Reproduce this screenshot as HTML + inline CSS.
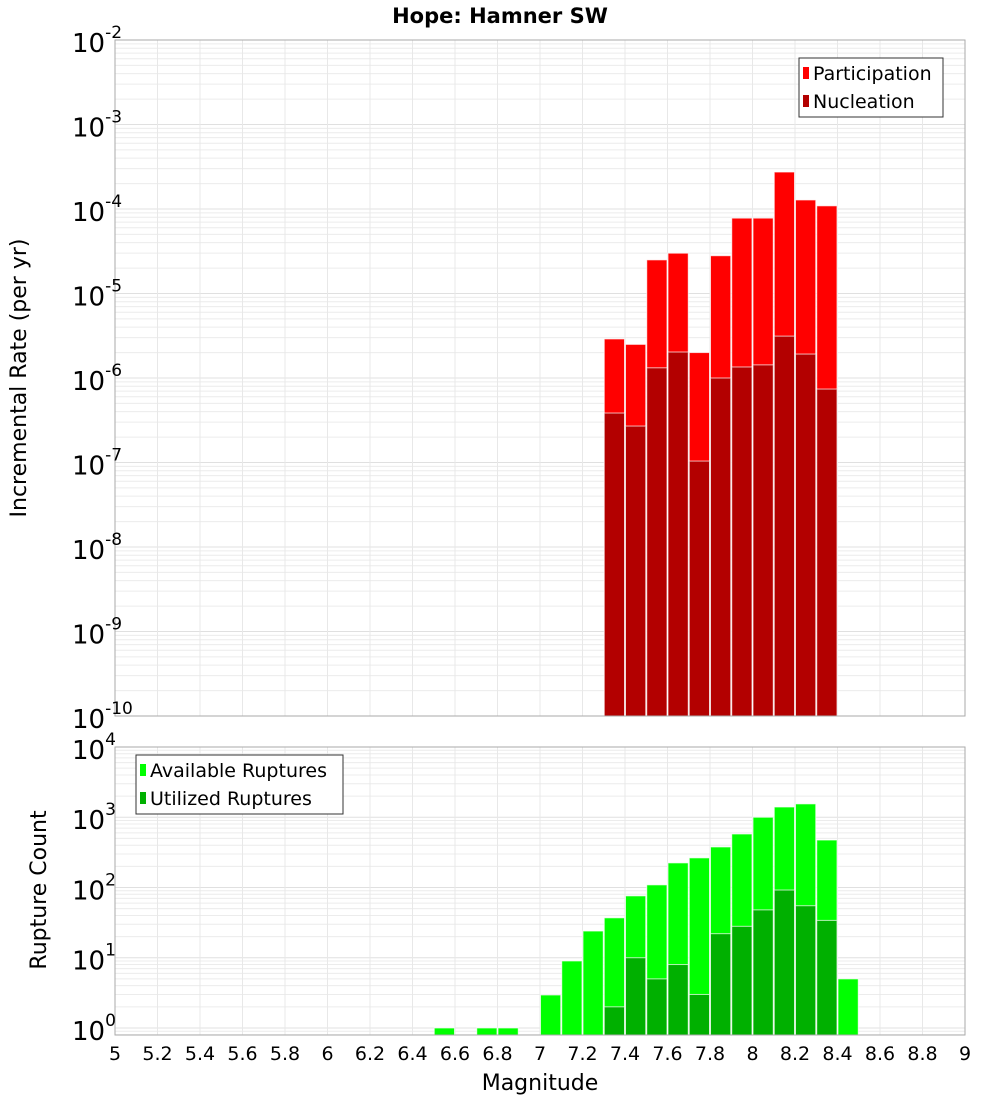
<!DOCTYPE html>
<html><head><meta charset="utf-8"><style>
body{margin:0;background:#fff;}
svg text{font-family:"DejaVu Sans","Liberation Sans",sans-serif;}
</style></head><body>
<svg id="c" width="1000" height="1100" xmlns="http://www.w3.org/2000/svg"></svg>
<script>
const binCenters=[7.35,7.45,7.55,7.65,7.75,7.85,7.95,8.05,8.15,8.25,8.35];
const participation=[2.9e-6,2.5e-6,2.5e-5,3.0e-5,2.0e-6,2.8e-5,7.8e-5,7.8e-5,2.74e-4,1.28e-4,1.09e-4];
const nucleation=[3.85e-7,2.7e-7,1.32e-6,2.03e-6,1.04e-7,1.0e-6,1.35e-6,1.43e-6,3.13e-6,1.92e-6,7.4e-7];
const availCenters=[6.55,6.75,6.85,7.05,7.15,7.25,7.35,7.45,7.55,7.65,7.75,7.85,7.95,8.05,8.15,8.25,8.35,8.45];
const available=[1,1,1,2.95,9,24,37,76,109,224,264,378,578,1000,1400,1550,474,5];
const utilCenters=[7.35,7.45,7.55,7.65,7.75,7.85,7.95,8.05,8.15,8.25,8.35];
const utilized=[2,10,5,8,3,22,28,48,92,55,34];
const xTicks=[5,5.2,5.4,5.6,5.8,6,6.2,6.4,6.6,6.8,7,7.2,7.4,7.6,7.8,8,8.2,8.4,8.6,8.8,9];
const topExps=[-10,-9,-8,-7,-6,-5,-4,-3,-2];
const botExps=[0,1,2,3,4];

const svg=document.getElementById('c');
const NS='http://www.w3.org/2000/svg';
function el(tag,attrs,parent){const e=document.createElementNS(NS,tag);for(const k in attrs)e.setAttribute(k,attrs[k]);(parent||svg).appendChild(e);return e;}
const X0=115,X1=965;
const xs=v=>X0+(v-5)/4*(X1-X0);
const T0=40,T1=716;
const ysTop=v=>T1-(Math.log10(v)+10)/8*(T1-T0);
const B0=747,B1=1035;
const ysBot=v=>B1-(Math.log10(v)+0.1)/4.1*(B1-B0);

function grid(top,bot,ys,lo,hi){
  const g=el('g',{});
  
  
  for(let e=lo;e<hi;e++)for(let m=1;m<10;m++){const v=m*Math.pow(10,e);const y=ys(v);if(y<top-0.5||y>bot+0.5)continue;
    el('line',{x1:X0,x2:X1,y1:y,y2:y,stroke:m==1?'#e0e0e0':'#ececec','stroke-width':1},g);}
  xTicks.forEach(t=>{const x=xs(t);el('line',{x1:x,x2:x,y1:top,y2:bot,stroke:'#e8e8e8','stroke-width':1},g);});
}
grid(T0,T1,ysTop,-10,-1);
grid(B0,B1,ysBot,-1,4);

function bars(centers,vals,ys,base,color,name){
  centers.forEach((c,i)=>{const x=xs(c-0.05),w=xs(c+0.05)-x;const y=ys(vals[i]);
    const r=el('rect',{x:x+0.5,y:y,width:w-1,height:base-y,fill:color,stroke:'#fff','stroke-opacity':0.7,'stroke-width':1});
    
    });
}
bars(binCenters,participation,ysTop,T1,'#ff0000','participation');
bars(binCenters,nucleation,ysTop,T1,'#b30000','nucleation');
bars(availCenters,available,ysBot,B1,'#00ff00','available');
bars(utilCenters,utilized,ysBot,B1,'#00b000','utilized');

el('rect',{x:X0,y:T0,width:X1-X0,height:T1-T0,fill:'none',stroke:'#aaa'});
el('rect',{x:X0,y:B0,width:X1-X0,height:B1-B0,fill:'none',stroke:'#aaa'});

function ylabels(exps,ys,pre){
  exps.forEach(e=>{const y=ys(Math.pow(10,e));
    const t=el('text',{x:72,y:y+12,'font-size':26,fill:'#000'});
    
    
    t.textContent='10';
    const s=el('tspan',{dy:-14,'font-size':17},t);s.textContent=String(e);});
}
ylabels(topExps,ysTop,'top-y');
ylabels(botExps,ysBot,'bottom-y');

xTicks.forEach(t=>{const tx=el('text',{x:xs(t),y:1060,'font-size':19,'text-anchor':'middle',fill:'#000'});
  
  
  tx.textContent=String(t);});

function txt(s,a,name){const t=el('text',a);t.textContent=s;return t;}
txt('Hope: Hamner SW',{x:500,y:23,'font-size':21,'font-weight':'bold','text-anchor':'middle'},'chart-title');
txt('Magnitude',{x:540,y:1090,'font-size':22,'text-anchor':'middle'},'x-axis-title');
txt('Incremental Rate (per yr)',{x:0,y:0,'font-size':22,'text-anchor':'middle',transform:'translate(26,378) rotate(-90)'},'top-y-axis-title');
txt('Rupture Count',{x:0,y:0,'font-size':22,'text-anchor':'middle',transform:'translate(46,890) rotate(-90)'},'bottom-y-axis-title');

function legend(x,y,w,items,name){
  const g=el('g',{});
  el('rect',{x:x,y:y,width:w,height:59,fill:'#fff',stroke:'#333'},g);
  items.forEach((it,i)=>{const yy=y+15+i*28;
    el('rect',{x:x+4,y:yy-6,width:6,height:12,fill:it[1]},g);
    const t=el('text',{x:x+14,y:yy+7,'font-size':19},g);t.textContent=it[0];});
}
legend(799,58,144,[['Participation','#ff0000'],['Nucleation','#b30000']],'top-legend');
legend(136,755,207,[['Available Ruptures','#00ff00'],['Utilized Ruptures','#00b000']],'bottom-legend');
</script>
</body></html>
